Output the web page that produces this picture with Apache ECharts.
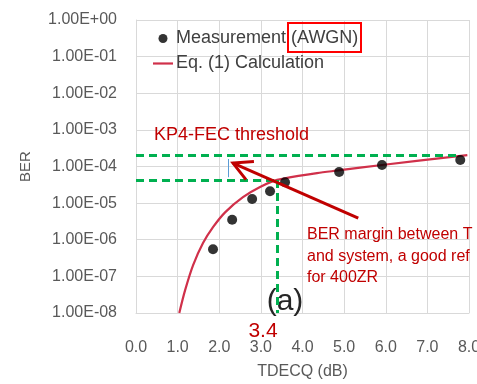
<!DOCTYPE html>
<html><head><meta charset="utf-8">
<script src="https://cdn.jsdelivr.net/npm/echarts@6.0.0/dist/echarts.min.js"></script>
<style>html,body{margin:0;padding:0;background:#fff}#c{width:477px;height:384px}</style>
</head><body><div id="c"></div>
<script>
// ---- data ----
const measName = 'Measurement (AWGN)';
const calcName = 'Eq. (1) Calculation';
const measX = [1.85, 2.31, 2.79, 3.22, 3.58, 4.88, 5.91, 7.79];
const measY = [5.5e-7, 3.5e-6, 1.3e-5, 2.1e-5, 3.7e-5, 7.1e-5, 1.1e-4, 1.5e-4];
const calcX = [1.04, 1.18, 1.37, 1.61, 1.85, 2.14, 2.57, 2.98, 3.39, 4.35, 4.86, 5.91, 7.96];
const calcY = [1e-8, 4.2e-8, 2.0e-7, 8.1e-7, 2.2e-6, 5.6e-6, 1.45e-5, 2.75e-5, 4.3e-5, 6.6e-5, 7.8e-5, 1.1e-4, 2.05e-4];
const xTicks = [0, 1, 2, 3, 4, 5, 6, 7, 8];
const yMinExp = -8, yMaxExp = 0;
const thrUpper = 2.05e-4, thrUpperEndX = 7.8;
const thrLower = 4.3e-5, tdecqMark = 3.4;
const cursorX = 2.21, cursorY = [1.6e-4, 5.1e-5];
const arrowTail = [5.34, 3.9e-6];
const arrowTip = [2.33, 1.24e-4];
const labelThreshold = 'KP4-FEC threshold';
const labelMargin = ['BER margin between T', 'and system, a good ref', 'for 400ZR'];
const labelPanel = '(a)';
const labelMark = '3.4';

const FONT = '"Liberation Sans", Arial, sans-serif';
const RED = '#c00000';
const GREEN = '#00b050';
const GRID = '#d9d9d9';

const chart = echarts.init(document.getElementById('c'), null, {renderer: 'canvas'});

function fmtExp(v) {
  const e = Math.round(Math.log10(v));
  const a = Math.abs(e);
  return '1.00E' + (e >= 0 ? '+' : '-') + (a < 10 ? '0' : '') + a;
}

const greenLine = {color: GREEN, width: 3, type: [8, 5]};

const option = {
  animation: false,
  textStyle: {fontFamily: FONT},
  grid: {left: 136, right: 8, top: 20, bottom: 71, containLabel: false, outerBoundsMode: 'none'},
  legend: {
    orient: 'vertical', left: 153, top: 28, padding: 0, itemGap: 4,
    itemWidth: 20, itemHeight: 9, symbolKeepAspect: true,
    textStyle: {fontSize: 18, color: '#404040', fontFamily: FONT, lineHeight: 21, padding: [0, 0, 0, -2]},
    data: [
      {name: measName, icon: 'circle'},
      {name: calcName, icon: 'path://M0,0 L20,0 L20,2.2 L0,2.2 Z'}
    ]
  },
  xAxis: {
    type: 'value', min: xTicks[0], max: xTicks[xTicks.length - 1], interval: 1,
    axisLine: {show: true, lineStyle: {color: GRID}},
    axisTick: {show: false},
    splitLine: {show: true, lineStyle: {color: GRID, width: 1}},
    axisLabel: {fontSize: 16, color: '#595959', margin: 27, formatter: v => v.toFixed(1), fontFamily: FONT},
    name: 'TDECQ (dB)', nameLocation: 'middle', nameGap: 51,
    nameTextStyle: {fontSize: 16, color: '#595959', fontFamily: FONT}
  },
  yAxis: {
    type: 'log', logBase: 10, min: Math.pow(10, yMinExp), max: Math.pow(10, yMaxExp),
    axisLine: {show: true, lineStyle: {color: GRID}},
    axisTick: {show: false},
    splitLine: {show: true, lineStyle: {color: GRID, width: 1}},
    minorSplitLine: {show: false},
    axisLabel: {fontSize: 16, color: '#595959', margin: 19, formatter: fmtExp, fontFamily: FONT},
    name: 'BER', nameLocation: 'middle', nameGap: 103, nameRotate: 90,
    nameTextStyle: {fontSize: 15, color: '#595959', fontFamily: FONT}
  },
  series: [
    {
      name: calcName, type: 'line', smooth: 0.3, symbol: 'none', z: 3,
      lineStyle: {color: '#d0304a', width: 2.2},
      itemStyle: {color: '#d0304a'},
      data: calcX.map((x, i) => [x, calcY[i]])
    },
    {
      name: measName, type: 'scatter', symbol: 'circle', symbolSize: 10, z: 4,
      itemStyle: {color: '#000000'},
      data: measX.map((x, i) => [x, measY[i]])
    },
    {
      name: 'annot', type: 'line', data: [], z: 2, silent: true,
      markLine: {
        silent: true, symbol: 'none', label: {show: false},
        data: [
          [{coord: [xTicks[0], thrUpper], lineStyle: greenLine}, {coord: [thrUpperEndX, thrUpper]}],
          [{coord: [xTicks[0], thrLower], lineStyle: greenLine}, {coord: [tdecqMark, thrLower]}],
          [{coord: [tdecqMark, thrLower], lineStyle: greenLine}, {coord: [tdecqMark, Math.pow(10, yMinExp)]}],
          [{coord: [cursorX, cursorY[0]], lineStyle: {color: '#5b9bd5', width: 1, type: 'solid'}}, {coord: [cursorX, cursorY[1]]}]
        ]
      }
    }
  ],
  graphic: [
    {type: 'text', x: 154, y: 135, z: 10,
      style: {text: labelThreshold, fontSize: 18, fill: RED, fontFamily: FONT, align: 'left', verticalAlign: 'middle'}},
    {type: 'text', x: 307, y: 224, z: 10,
      style: {text: labelMargin.join('\n'), fontSize: 16, lineHeight: 21.5, fill: RED, fontFamily: FONT, align: 'left', verticalAlign: 'top'}},
    {type: 'text', x: 285, y: 302, z: 1,
      style: {text: labelPanel, fontSize: 30, fill: '#262626', fontFamily: FONT, align: 'center', verticalAlign: 'middle'}},
    {type: 'text', x: 263, y: 331, z: 10,
      style: {text: labelMark, fontSize: 21, fill: RED, fontFamily: FONT, align: 'center', verticalAlign: 'middle'}},
    {type: 'rect', z: 10, shape: {x: 288, y: 23, width: 73, height: 29},
      style: {fill: 'none', stroke: '#ff0000', lineWidth: 2}}
  ]
};
chart.setOption(option);

// arrow annotation positioned through the chart's own scales
const pTail = chart.convertToPixel({gridIndex: 0}, arrowTail);
const pTip = chart.convertToPixel({gridIndex: 0}, arrowTip);
const ang = Math.atan2(pTail[1] - pTip[1], pTail[0] - pTip[0]);
const armLen = 21, half = 28 * Math.PI / 180;
const arm1 = [pTip[0] + armLen * Math.cos(ang + half), pTip[1] + armLen * Math.sin(ang + half)];
const arm2 = [pTip[0] + armLen * Math.cos(ang - half), pTip[1] + armLen * Math.sin(ang - half)];
chart.setOption({
  graphic: option.graphic.concat([
    {type: 'line', z: 11, shape: {x1: pTail[0], y1: pTail[1], x2: pTip[0], y2: pTip[1]},
      style: {stroke: RED, lineWidth: 3}},
    {type: 'polyline', z: 11, shape: {points: [arm1, pTip, arm2]},
      style: {stroke: RED, lineWidth: 3, fill: 'none', lineJoin: 'miter'}}
  ])
}, {replaceMerge: ['graphic']});
</script>
</body></html>
